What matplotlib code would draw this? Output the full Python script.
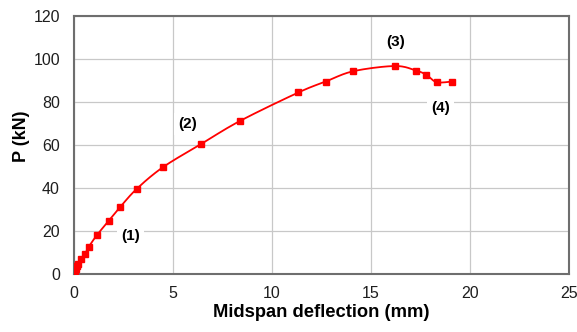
import numpy as np
import matplotlib
matplotlib.use('Agg')
import matplotlib.pyplot as plt

# load-deflection readings (mm, kN)
deflection = [0.0, 0.04, 0.09, 0.15, 0.22, 0.34, 0.56, 0.76, 1.17, 1.75, 2.33,
              3.18, 4.51, 6.44, 8.40, 11.34, 12.72, 14.12, 16.22, 17.28, 17.80,
              18.32, 19.11]
load = [0.0, 1.2, 2.4, 3.6, 4.8, 6.8, 9.3, 12.7, 18.1, 24.6, 31.0,
        39.6, 49.7, 60.5, 71.2, 84.4, 89.5, 94.3, 96.7, 94.6, 92.6,
        89.2, 89.5]

stage_labels = ['(1)', '(2)', '(3)', '(4)']
stage_x = [2.85, 5.74, 16.27, 18.53]
stage_y = [17.6, 69.7, 107.9, 77.2]


def smooth(xs, ys, n=20):
    # catmull-rom through the points, similar to excel's smoothed line
    p = np.column_stack([xs, ys])
    p = np.vstack([p[0], p, p[-1]])
    out = []
    t = np.linspace(0, 1, n, endpoint=False)[:, None]
    for i in range(1, len(p) - 2):
        p0, p1, p2, p3 = p[i - 1], p[i], p[i + 1], p[i + 2]
        seg = 0.5 * ((2 * p1) + (-p0 + p2) * t +
                     (2 * p0 - 5 * p1 + 4 * p2 - p3) * t ** 2 +
                     (-p0 + 3 * p1 - 3 * p2 + p3) * t ** 3)
        out.append(seg)
    out.append(p[-2][None, :])
    out = np.vstack(out)
    return out[:, 0], out[:, 1]


plt.rcParams['font.family'] = ['Liberation Sans', 'DejaVu Sans']

fig = plt.figure(figsize=(5.77, 3.32), dpi=100)
ax = fig.add_axes([0.128, 0.175, 0.858, 0.777])

sx, sy = smooth(deflection, load)
ax.plot(sx, sy, color='#ff0000', linewidth=1.3, zorder=3)
ax.plot(deflection, load, linestyle='none', marker='s', markersize=4,
        color='#ff0000', zorder=4)

for lab, x, y in zip(stage_labels, stage_x, stage_y):
    ax.text(x, y, lab, ha='center', va='center', fontsize=11, fontweight='bold',
            bbox=dict(facecolor='white', edgecolor='none', pad=3), zorder=2)

ax.set_xlim(0, 25)
ax.set_ylim(0, 120)
ax.set_xticks(range(0, 26, 5))
ax.set_yticks(range(0, 121, 20))
ax.grid(True, color='#c8c8c8', linewidth=0.9)
ax.set_axisbelow(True)
ax.tick_params(length=0, labelsize=11.5, labelcolor='#1e1e1e')
ax.tick_params(axis='x', pad=9)
ax.tick_params(axis='y', pad=10)
for s in ax.spines.values():
    s.set_color('#6e6e6e')
    s.set_linewidth(1.5)

ax.set_xlabel('Midspan deflection (mm)', fontsize=13.2, fontweight='bold', labelpad=2)
ax.set_ylabel('P (kN)', fontsize=13, fontweight='bold')
ax.yaxis.set_label_coords(-0.089, 0.535)

fig.savefig('out.png', dpi=100)
